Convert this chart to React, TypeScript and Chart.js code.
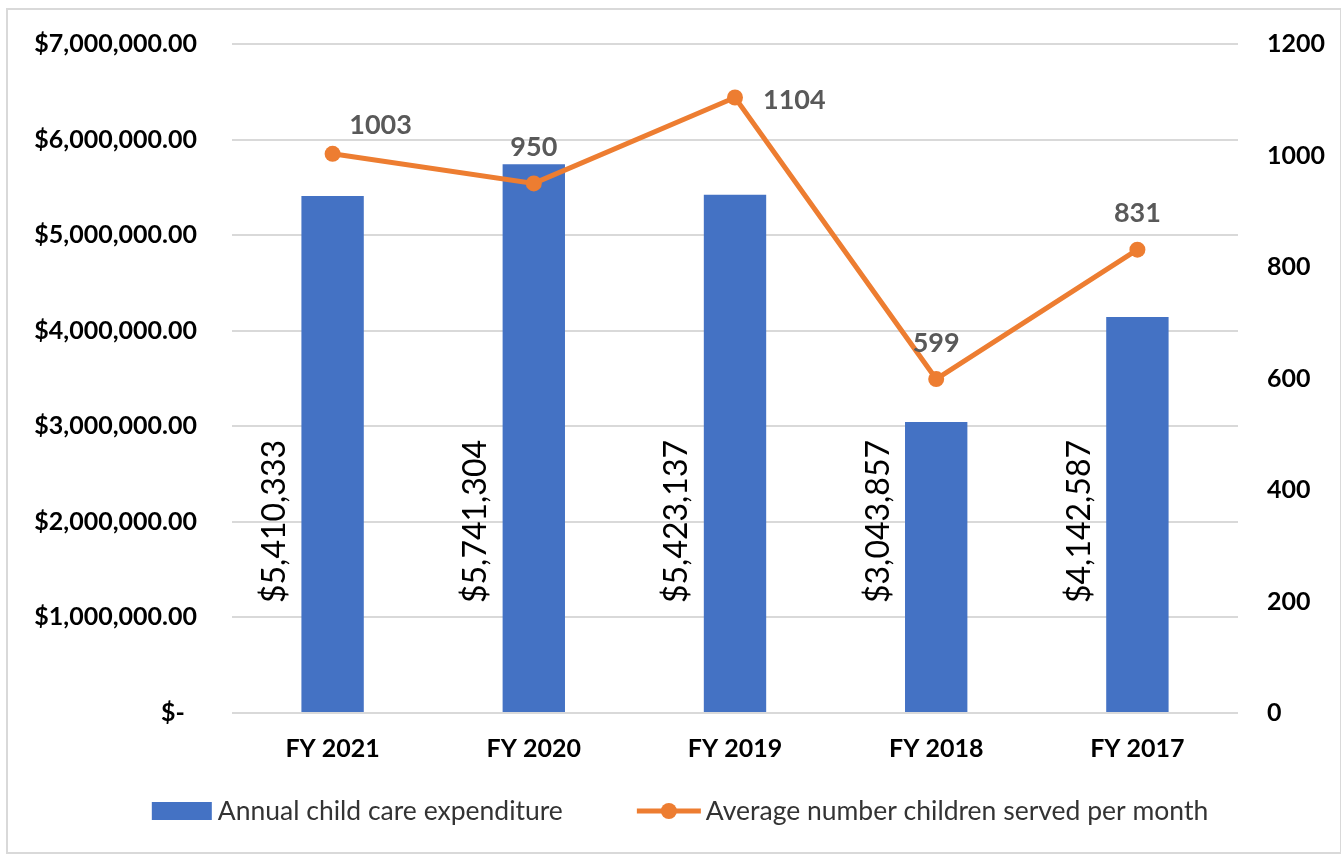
import React, { useEffect, useRef } from "react";
import { Chart, registerables } from "chart.js";

Chart.register(...registerables);

const categories = ["FY 2021", "FY 2020", "FY 2019", "FY 2018", "FY 2017"];
const expenditure = [5410333, 5741304, 5423137, 3043857, 4142587];
const childrenServed = [1003, 950, 1104, 599, 831];
const seriesNames = ["Annual child care expenditure", "Average number children served per month"];
const leftTicks = { min: 0, max: 7000000, step: 1000000 };
const rightTicks = { min: 0, max: 1200, step: 200 };

const BLUE = "#4472C4";
const ORANGE = "#ED7D31";
const GRID = "#d9d9d9";
const FONT = "Lato";

// placement of the line's value labels (style only)
const lineLabelAnchor = ["upper-right", "above", "right", "above", "above"];

const fmtMoney = (v: number) => "$" + v.toLocaleString("en-US");

const labelPlugin = {
  id: "customLabels",
  afterDatasetsDraw(chart: any) {
    const ctx = chart.ctx;
    const barMeta = chart.getDatasetMeta(0);
    const lineMeta = chart.getDatasetMeta(1);
    const yBase = chart.scales.y.getPixelForValue(0);
    ctx.save();
    ctx.font = `32px ${FONT}`;
    ctx.fillStyle = "#000";
    ctx.textAlign = "left";
    ctx.textBaseline = "middle";
    barMeta.data.forEach((el: any, i: number) => {
      ctx.save();
      ctx.translate(el.x - 58, yBase - 110);
      ctx.rotate(-Math.PI / 2);
      ctx.fillText(fmtMoney(expenditure[i]), 0, 0);
      ctx.restore();
    });
    ctx.font = `bold 27px ${FONT}`;
    ctx.fillStyle = "#595959";
    ctx.textBaseline = "middle";
    lineMeta.data.forEach((el: any, i: number) => {
      const txt = String(childrenServed[i]);
      const a = lineLabelAnchor[i];
      if (a === "upper-right") {
        ctx.textAlign = "center";
        ctx.fillText(txt, el.x + 48, el.y - 29);
      } else if (a === "right") {
        ctx.textAlign = "left";
        ctx.fillText(txt, el.x + 28, el.y + 3);
      } else {
        ctx.textAlign = "center";
        ctx.fillText(txt, el.x, el.y - 36);
      }
    });
    ctx.restore();
  },
  afterDraw(chart: any) {
    const ctx = chart.ctx;
    ctx.save();
    ctx.font = `26.5px ${FONT}`;
    ctx.fillStyle = "#333";
    ctx.textBaseline = "middle";
    ctx.textAlign = "left";
    const y = 811;
    const w1 = 60 + 6 + ctx.measureText(seriesNames[0]).width;
    const w2 = 64 + 5 + ctx.measureText(seriesNames[1]).width;
    const gap = 74;
    const total = w1 + gap + w2;
    let x = 680 - total / 2;
    ctx.fillStyle = BLUE;
    ctx.fillRect(x, y - 9, 60, 18);
    ctx.fillStyle = "#333";
    ctx.fillText(seriesNames[0], x + 66, y);
    x += w1 + gap;
    ctx.strokeStyle = ORANGE;
    ctx.lineWidth = 5;
    ctx.beginPath();
    ctx.moveTo(x, y);
    ctx.lineTo(x + 64, y);
    ctx.stroke();
    ctx.fillStyle = ORANGE;
    ctx.beginPath();
    ctx.arc(x + 32, y, 8, 0, Math.PI * 2);
    ctx.fill();
    ctx.fillStyle = "#333";
    ctx.fillText(seriesNames[1], x + 69, y);
    ctx.restore();
  },
};

export default function App() {
  const ref = useRef<HTMLCanvasElement | null>(null);
  useEffect(() => {
    if (!ref.current) return;
    const chart = new Chart(ref.current, {
      type: "bar",
      data: {
        labels: categories,
        datasets: [
          {
            type: "bar",
            label: seriesNames[0],
            data: expenditure,
            backgroundColor: BLUE,
            yAxisID: "y",
            categoryPercentage: 1,
            barPercentage: 0.31,
            order: 1,
          },
          {
            type: "line",
            label: seriesNames[1],
            data: childrenServed,
            borderColor: ORANGE,
            backgroundColor: ORANGE,
            borderWidth: 5,
            pointRadius: 8,
            pointBorderWidth: 0,
            pointBackgroundColor: ORANGE,
            tension: 0,
            yAxisID: "y1",
            order: 0,
          },
        ],
      },
      options: {
        responsive: false,
        animation: false,
        layout: { padding: { top: 44, left: 0, right: 0, bottom: 81 } },
        plugins: { legend: { display: false }, tooltip: { enabled: false } },
        scales: {
          x: {
            grid: { display: false },
            border: { display: false },
            ticks: {
              color: "#000",
              font: { family: FONT, size: 25, weight: "bold" },
              padding: 13,
            },
            afterFit: (s: any) => {
              s.height = 60;
            },
          },
          y: {
            position: "left",
            min: leftTicks.min,
            max: leftTicks.max,
            grid: { color: GRID, lineWidth: 2, drawTicks: false },
            border: { display: false },
            ticks: {
              stepSize: leftTicks.step,
              color: "#000",
              padding: 35,
              font: { family: FONT, size: 25, weight: "bold" },
              callback: (v: any) =>
                v === 0
                  ? "$-  "
                  : "$" + Number(v).toLocaleString("en-US", { minimumFractionDigits: 2, maximumFractionDigits: 2 }),
            },
            afterFit: (s: any) => {
              s.width = 232;
              s.paddingTop = 0;
              s.paddingBottom = 0;
            },
          },
          y1: {
            position: "right",
            min: rightTicks.min,
            max: rightTicks.max,
            grid: { drawOnChartArea: false, drawTicks: false },
            border: { display: false },
            ticks: {
              stepSize: rightTicks.step,
              color: "#000",
              padding: 29,
              font: { family: FONT, size: 25, weight: "bold" },
              callback: (v: any) => String(v),
            },
            afterFit: (s: any) => {
              s.width = 103;
              s.paddingTop = 0;
              s.paddingBottom = 0;
            },
          },
        },
      },
      plugins: [labelPlugin],
    } as any);
    return () => chart.destroy();
  }, []);
  return (
    <div style={{ position: "fixed", left: 0, top: 0, width: 1341, height: 854, background: "#fff" }}>
      <canvas ref={ref} width={1341} height={854} style={{ display: "block" }} />
      <div
        style={{
          position: "absolute",
          left: 6,
          top: 8,
          width: 1336,
          height: 846,
          border: "2px solid #d9d9d9",
          boxSizing: "border-box",
          pointerEvents: "none",
        }}
      />
    </div>
  );
}
